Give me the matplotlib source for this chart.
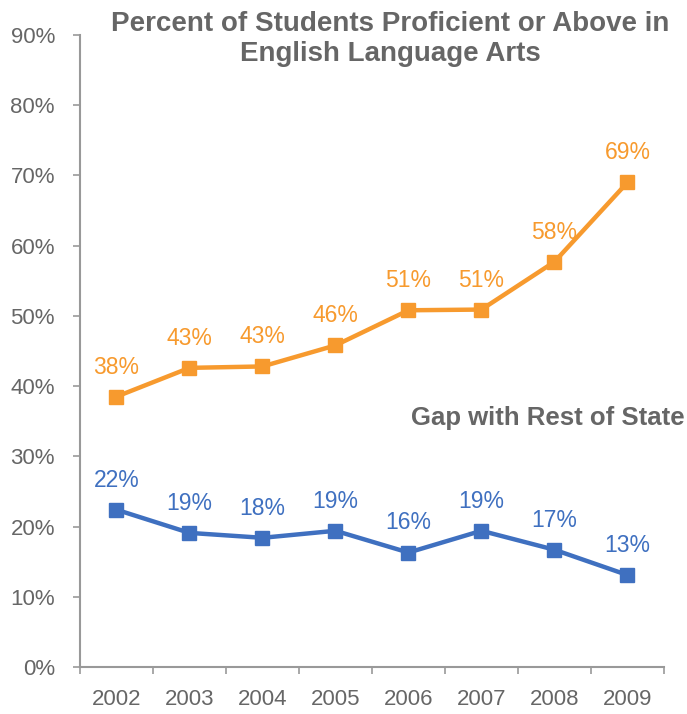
import matplotlib

matplotlib.use("Agg")
import matplotlib.pyplot as plt
from matplotlib.ticker import FixedLocator, NullFormatter

plt.rcParams["font.family"] = ["Liberation Sans", "DejaVu Sans"]

YEARS = ["2002", "2003", "2004", "2005", "2006", "2007", "2008", "2009"]
PROFICIENT = [38.5, 42.6, 42.8, 45.8, 50.8, 50.9, 57.7, 69.0]
GAP = [22.4, 19.1, 18.4, 19.4, 16.3, 19.4, 16.7, 13.1]
Y_TICKS = [0, 10, 20, 30, 40, 50, 60, 70, 80, 90]

ORANGE = "#F79A2E"
BLUE = "#3F70C0"
GRAY = "#666666"
AXIS = "#999999"

fig = plt.figure(figsize=(6.87, 7.14), dpi=100)
ax = fig.add_axes([0.1164, 0.0658, 0.85, 0.8852])

x = list(range(len(YEARS)))

ax.plot(x, PROFICIENT, color=ORANGE, linewidth=3.2, marker="s", markersize=10, zorder=3)
ax.plot(x, GAP, color=BLUE, linewidth=3.2, marker="s", markersize=10, zorder=3)

for xi, v in zip(x, PROFICIENT):
    ax.annotate(f"{round(v):.0f}%", (xi, v), xytext=(0, 13), textcoords="offset points",
                ha="center", va="bottom", fontsize=16.5, color=ORANGE)
for xi, v in zip(x, GAP):
    ax.annotate(f"{round(v):.0f}%", (xi, v), xytext=(0, 13), textcoords="offset points",
                ha="center", va="bottom", fontsize=16.5, color=BLUE)

ax.set_xlim(-0.5, len(YEARS) - 0.5)
ax.set_ylim(0, 90)

ax.set_yticks(Y_TICKS)
ax.set_yticklabels([f"{t}%" for t in Y_TICKS], fontsize=16, color=GRAY)
ax.tick_params(axis="y", direction="out", length=5, width=1.2, color=AXIS, pad=13)

ax.set_xticks(x)
ax.set_xticklabels(YEARS, fontsize=16, color=GRAY)
ax.tick_params(axis="x", which="major", length=0, pad=16)
ax.xaxis.set_minor_locator(FixedLocator([i - 0.5 for i in range(len(YEARS) + 1)]))
ax.xaxis.set_minor_formatter(NullFormatter())
ax.tick_params(axis="x", which="minor", direction="out", length=5, width=1.2, color=AXIS)

for side in ["top", "right"]:
    ax.spines[side].set_visible(False)
for side in ["left", "bottom"]:
    ax.spines[side].set_color(AXIS)
    ax.spines[side].set_linewidth(1.5)

fig.text(0.568, 0.985, "Percent of Students Proficient or Above in\nEnglish Language Arts",
         ha="center", va="top", fontsize=20, fontweight="bold", color=GRAY, linespacing=1.2)
fig.text(0.997, 0.415, "Gap with Rest of State", ha="right", va="center",
         fontsize=18.5, fontweight="bold", color=GRAY)

fig.savefig("out.png", dpi=100)
